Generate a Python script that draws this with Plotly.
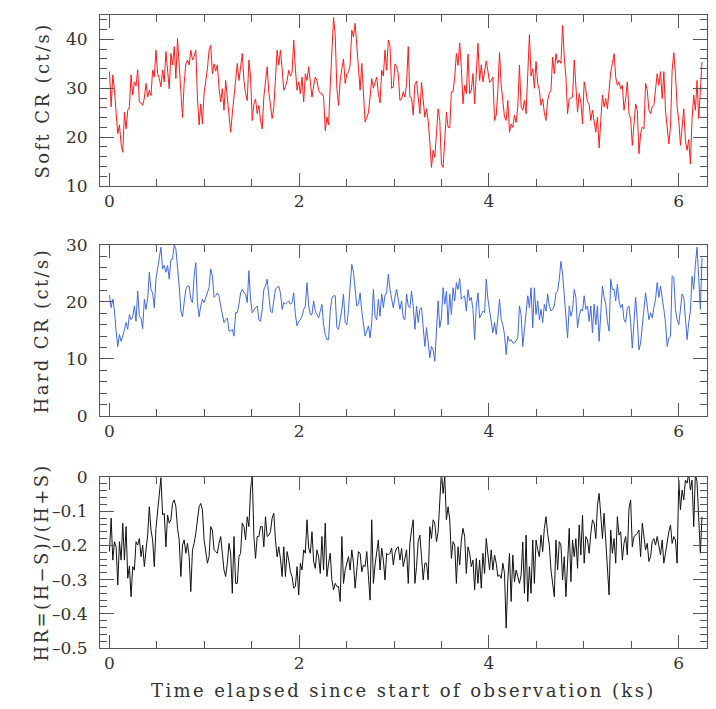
import numpy as np
import plotly.graph_objects as go
from plotly.subplots import make_subplots

# light-curve bins (ks)
BIN_KS = 0.0175

soft_cr = [
    33.4, 26.2, 32.7, 29.6, 25, 20.7, 22.5, 18.6, 16.9, 25.1,
    21.7, 25.5, 26.2, 32.7, 28.6, 31.3, 30.5, 33.8, 27.2, 27,
    26.5, 28, 31, 28.2, 29.6, 28.5, 33.7, 32.3, 37.8, 33,
    32, 30.3, 33.7, 31.3, 37.5, 33, 29.9, 37.1, 34.8, 38.5,
    32, 40.2, 35.4, 30, 24, 31, 35, 35.8, 34.8, 37.8,
    35.8, 36.5, 37.8, 28, 22.5, 26.8, 22.7, 29, 31.3, 34,
    37.8, 38.8, 33, 35, 33.5, 34.8, 30, 27.2, 29.9, 25.5,
    31.6, 28.2, 23.4, 21, 24.8, 28, 31.6, 35.1, 31.6, 35,
    37.1, 31.6, 28.9, 27.5, 35.8, 32.3, 23.4, 26.8, 27.8, 24.8,
    26.5, 23.5, 21.7, 28.2, 31.3, 34.4, 29.2, 27, 23.8, 26,
    31.6, 37.8, 34.8, 37.8, 34, 29.6, 30.3, 31.6, 33.7, 32.5,
    33.2, 39.9, 34, 29.6, 31.3, 28.9, 32.3, 27.2, 33, 31.6,
    34.4, 30.5, 28.2, 30.5, 32.3, 31.6, 29.6, 29, 28.9, 28.2,
    21.3, 24.1, 22.5, 30.5, 36.4, 44.5, 40.9, 30, 26.5, 31.6,
    34, 36, 31, 33, 33.2, 34.8, 41.9, 40.5, 43.3, 38,
    34.4, 29.6, 35.1, 27.5, 23.1, 24, 25, 28.2, 32, 30,
    31, 32.3, 29, 27, 33.7, 32.5, 37.8, 33.7, 39.9, 38.8,
    30, 30.3, 35, 34.5, 33, 27.5, 27.8, 29.3, 28.2, 31,
    38.5, 28.2, 28, 24.5, 30.8, 31.5, 28.2, 24.8, 31.2, 28.2,
    24.1, 25.8, 23.4, 19, 13.8, 17.3, 15.9, 20.7, 25.8, 23.4,
    14.5, 13.8, 20.7, 25.1, 22, 21.9, 29.3, 29.3, 32.3, 37.1,
    34.7, 39.3, 34.2, 26.8, 30.6, 28.9, 37, 28.9, 29.6, 33,
    26.8, 32, 39.2, 31.6, 34.8, 31.3, 33.5, 35.6, 33.5, 31.2,
    31.6, 32.3, 23.4, 24.5, 29.6, 37.3, 30.7, 27.5, 24.1, 23.4,
    27.5, 21, 22.7, 22, 24.5, 23, 26.2, 34.7, 26.2, 25.5,
    27.5, 24.8, 32.7, 41, 32.5, 34, 30, 35.5, 31, 29.6,
    26.5, 27.8, 25, 23.4, 27.5, 29, 29.6, 36.4, 33, 37.1,
    35.1, 35.8, 35.1, 42.9, 36.4, 32.3, 24.8, 27.9, 28, 28.2,
    35.8, 31.3, 25.1, 28.9, 27.2, 22.7, 31.3, 29.6, 27.2, 26.8,
    23.4, 25.5, 22.7, 21, 24.1, 17.8, 23.4, 28.6, 26.2, 27.9,
    25.8, 30.3, 33.4, 35.1, 37.1, 32.3, 30.6, 31.3, 29.9, 30.6,
    25.5, 27.9, 31.3, 24.8, 23.8, 18.3, 22.4, 26.8, 25.5, 16.6,
    20.7, 22.1, 21.7, 31, 29.6, 25.5, 24.8, 26.2, 26.5, 29.9,
    33, 30.6, 33.4, 27.9, 33.4, 25.5, 21.7, 18.6, 22.1, 33.7,
    37.3, 33, 26.2, 23.4, 18.3, 22.7, 25.8, 19.3, 17.3, 19.5,
    14.5, 23.8, 28.6, 25.5, 31.6, 23.8, 30.3, 35.4,
]

hard_cr = [
    21.2, 19, 20.5, 18.4, 14.9, 12.2, 14.3, 13.1, 14, 15.2,
    16.4, 15.2, 17.8, 16.9, 17.4, 19.3, 16.6, 21.9, 17.5, 17.2,
    15.3, 20.5, 18.7, 20.6, 25.2, 22.2, 21.6, 19, 24, 25.8,
    27.8, 29.6, 25.8, 26.4, 25.2, 26.4, 24, 27.4, 27.5, 30,
    29.3, 26.4, 22.8, 18.4, 17.4, 19.9, 22.2, 22.8, 22.8, 20.5,
    19.9, 24.6, 26.9, 19.9, 17.4, 19.3, 20.5, 19.9, 20.8, 21.6,
    22.5, 25.8, 24.6, 20.8, 21.1, 21.6, 21.1, 19.3, 17.8, 16.4,
    16.9, 17.2, 14.9, 14.9, 15.2, 14, 18.1, 18.1, 19.6, 21.6,
    22.2, 21.6, 21.4, 19.9, 25.5, 20.5, 18.1, 18.7, 19, 19.3,
    16.9, 16.6, 18.7, 22.2, 22.8, 24, 20.5, 18.4, 18.1, 20.5,
    22.3, 22.5, 22.8, 21.6, 18.7, 19.9, 19.6, 19.9, 20.2, 19.6,
    19.9, 21.6, 17.8, 15.8, 16.6, 16.9, 17.5, 18.7, 19.3, 23.4,
    19.3, 17.8, 17.8, 20.2, 18.4, 17.8, 17.2, 18.4, 19.6, 16,
    14.3, 13.4, 13.4, 18.4, 20.6, 21.1, 21.1, 15.5, 15.2, 16.9,
    18.7, 21.4, 16.4, 16, 18.7, 22.8, 26.6, 25.2, 21.6, 19.3,
    19.6, 21.6, 18.4, 16.6, 14, 14.9, 15.8, 13.7, 16.4, 22.2,
    17.5, 16.9, 20.5, 17.5, 21.4, 19, 21.2, 21.6, 24.9, 22.2,
    20.2, 19, 20.8, 22.2, 20.5, 18.7, 20.2, 17.1, 16.9, 21.4,
    19.3, 19, 21.9, 19.3, 15.2, 19.3, 16.4, 18.7, 19, 15.2,
    12.2, 15.5, 12.2, 10.2, 12.2, 11.6, 9.6, 16.4, 20.2, 15.5,
    17.2, 22.5, 19.6, 21.9, 16, 21.4, 17.8, 22.5, 20.2, 23.4,
    22.2, 24.1, 20.5, 20.8, 21.1, 18.4, 22.2, 20.2, 20.8, 18.7,
    13.4, 19.3, 21.6, 17.2, 17.8, 18.4, 18.1, 24, 20.5, 18.4,
    16.9, 14.6, 16.4, 14.3, 17.2, 20.5, 16.9, 16, 14.3, 10.8,
    14, 13.1, 13.4, 12.8, 12.8, 13.4, 13.7, 19.3, 17.8, 12.2,
    14.9, 17.5, 21.1, 19, 22.5, 15.5, 22.5, 17.8, 20.2, 16.9,
    18.7, 16.4, 19.6, 18.4, 21.4, 19.3, 18.4, 18.7, 19.3, 21.6,
    21.9, 24, 27.1, 24.9, 21.6, 17.5, 13.7, 19.3, 17.5, 18.7,
    22.2, 20.8, 15.5, 17.5, 18.7, 18.4, 21.1, 18.7, 19.3, 16.6,
    19.3, 14.6, 19.6, 16, 19.3, 13.1, 18.1, 22.8, 20.8, 19.6,
    16.6, 14.9, 24, 22.2, 22.2, 20.2, 23.1, 20.2, 19, 19.6,
    16.9, 16.4, 19, 19.3, 16.4, 11.9, 16.4, 20.8, 16.9, 11.6,
    12.8, 16.4, 18.7, 21.6, 19.3, 16.9, 18.1, 17.2, 19, 20.5,
    23.4, 20.8, 22.8, 20.2, 18.7, 16.4, 12.2, 13.7, 14, 24.6,
    24.3, 18.7, 16.9, 16, 18.7, 21.4, 20.8, 16.9, 13.4, 16.4,
    18.4, 24.5, 22.2, 26.6, 29.6, 24.3, 18.7, 27.8,
]

hardness = [
    -0.218, -0.12, -0.243, -0.189, -0.204, -0.316, -0.189, -0.243, -0.135, -0.243,
    -0.145, -0.296, -0.26, -0.35, -0.262, -0.272, -0.189, -0.199, -0.18, -0.233,
    -0.199, -0.262, -0.213, -0.17, -0.087, -0.155, -0.184, -0.262, -0.15, -0.106,
    -0.048, -0.002, -0.111, -0.106, -0.204, -0.111, -0.135, -0.125, -0.077, -0.067,
    -0.087, -0.15, -0.184, -0.291, -0.199, -0.184, -0.223, -0.194, -0.233, -0.335,
    -0.213, -0.194, -0.165, -0.125, -0.087, -0.077, -0.096, -0.184, -0.213, -0.252,
    -0.233, -0.145, -0.155, -0.213, -0.218, -0.223, -0.194, -0.174, -0.223, -0.272,
    -0.291, -0.252, -0.194, -0.223, -0.34, -0.174, -0.311, -0.311, -0.233, -0.223,
    -0.135, -0.145, -0.184, -0.116, -0.145, -0.038, 0.01, -0.174, -0.238, -0.174,
    -0.174, -0.145, -0.145, -0.204, -0.116, -0.174, -0.17, -0.16, -0.12, -0.106,
    -0.184, -0.233, -0.204, -0.238, -0.291, -0.204, -0.291, -0.218, -0.243, -0.277,
    -0.291, -0.325, -0.32, -0.262, -0.345, -0.252, -0.272, -0.213, -0.223, -0.125,
    -0.208, -0.223, -0.16, -0.247, -0.267, -0.213, -0.233, -0.282, -0.174, -0.272,
    -0.135, -0.291, -0.252, -0.223, -0.301, -0.33, -0.311, -0.32, -0.32, -0.364,
    -0.174, -0.311, -0.272, -0.252, -0.233, -0.272, -0.213, -0.252, -0.325, -0.272,
    -0.218, -0.223, -0.277, -0.257, -0.262, -0.218, -0.291, -0.36, -0.125, -0.311,
    -0.257, -0.223, -0.184, -0.272, -0.208, -0.243, -0.301, -0.223, -0.228, -0.223,
    -0.208, -0.257, -0.223, -0.208, -0.204, -0.243, -0.209, -0.262, -0.238, -0.213,
    -0.311, -0.194, -0.155, -0.125, -0.311, -0.262, -0.189, -0.17, -0.233, -0.301,
    -0.252, -0.252, -0.301, -0.145, -0.18, -0.125, -0.135, -0.189, -0.16, -0.057,
    0.016, -0.048, 0.0, -0.125, -0.087, -0.125, -0.238, -0.189, -0.199, -0.311,
    -0.204, -0.257, -0.184, -0.15, -0.174, -0.282, -0.204, -0.223, -0.262, -0.243,
    -0.33, -0.238, -0.311, -0.243, -0.325, -0.223, -0.282, -0.18, -0.233, -0.272,
    -0.213, -0.272, -0.228, -0.252, -0.291, -0.286, -0.296, -0.252, -0.282, -0.442,
    -0.301, -0.223, -0.364, -0.228, -0.306, -0.272, -0.291, -0.311, -0.286, -0.19,
    -0.34, -0.17, -0.364, -0.262, -0.34, -0.184, -0.311, -0.184, -0.213, -0.233,
    -0.17, -0.218, -0.15, -0.116, -0.165, -0.199, -0.272, -0.311, -0.35, -0.184,
    -0.272, -0.189, -0.199, -0.301, -0.233, -0.35, -0.223, -0.15, -0.306, -0.184,
    -0.233, -0.18, -0.267, -0.14, -0.228, -0.111, -0.252, -0.174, -0.184, -0.223,
    -0.165, -0.125, -0.135, -0.18, -0.082, -0.048, -0.111, -0.18, -0.106, -0.194,
    -0.243, -0.345, -0.155, -0.223, -0.18, -0.252, -0.116, -0.17, -0.16, -0.243,
    -0.194, -0.174, -0.228, -0.091, -0.067, -0.204, -0.174, -0.17, -0.165, -0.155,
    -0.233, -0.135, -0.174, -0.213, -0.194, -0.247, -0.233, -0.189, -0.18, -0.199,
    -0.174, -0.204, -0.228, -0.184, -0.252, -0.223, -0.189, -0.16, -0.14, -0.194,
    -0.174, -0.184, -0.252, -0.009, -0.096, -0.038, -0.067, -0.009, -0.018, 0.01,
    -0.038, -0.009, -0.145, 0.01, -0.014, -0.135, -0.223, -0.116,
]

hr_ticks = [-0.5, -0.4, -0.3, -0.2, -0.1, 0]
hr_tick_text = ["\u20130.5", "\u20130.4", "\u20130.3", "\u20130.2", "\u20130.1", "0"]

time_ks = np.arange(len(soft_cr)) * BIN_KS

FONT = "DejaVu Serif"
AX = "#555555"

fig = make_subplots(rows=3, cols=1)
fig.add_trace(go.Scatter(x=time_ks, y=soft_cr, mode="lines",
                         line=dict(color="#ff1a1a", width=1)), row=1, col=1)
fig.add_trace(go.Scatter(x=time_ks, y=hard_cr, mode="lines",
                         line=dict(color="#4169e1", width=1)), row=2, col=1)
fig.add_trace(go.Scatter(x=time_ks, y=hardness, mode="lines",
                         line=dict(color="#111111", width=1)), row=3, col=1)

common = dict(showline=True, linecolor=AX, linewidth=1, mirror="allticks",
              showgrid=False, zeroline=False, ticks="inside", tickcolor=AX,
              tickwidth=1, automargin=False,
              tickfont=dict(family=FONT, size=17, color="#333"))

for i in (1, 2, 3):
    fig.update_xaxes(range=[-0.1, 6.3], dtick=2, tick0=0, ticklen=13,
                     minor=dict(dtick=0.5, ticklen=7, tickcolor=AX, ticks="inside"),
                     row=i, col=1, **common)

fig.update_yaxes(range=[10, 45], dtick=10, ticklen=14,
                 minor=dict(dtick=2, ticklen=7, tickcolor=AX, ticks="inside"),
                 domain=[0.7299, 1.0], ticklabelstandoff=8, row=1, col=1, **common)
fig.update_yaxes(range=[0, 30], dtick=10, ticklen=14,
                 minor=dict(dtick=2, ticklen=7, tickcolor=AX, ticks="inside"),
                 domain=[0.3665, 0.6367], ticklabelstandoff=8, row=2, col=1, **common)
fig.update_yaxes(range=[-0.5, 0], tickvals=hr_ticks, ticktext=hr_tick_text,
                 ticklen=14,
                 minor=dict(dtick=0.02, ticklen=7, tickcolor=AX, ticks="inside"),
                 domain=[0.0, 0.2701], ticklabelstandoff=8, row=3, col=1, **common)


def spaced(s):
    return '<span style="letter-spacing:2.4px">' + s + '</span>'


titles = [("Soft CR (ct/s)", 0.865), ("Hard CR (ct/s)", 0.5016),
          ("HR=(H\u2212S)/(H+S)", 0.135)]
for text, yc in titles:
    fig.add_annotation(text=spaced(text), xref="paper", yref="paper",
                       x=-0.0956, y=yc, textangle=-90, showarrow=False,
                       xanchor="center", yanchor="middle",
                       font=dict(family=FONT, size=18, color="#333"))
fig.add_annotation(text=spaced("Time elapsed since start of observation (ks)"),
                   xref="paper", yref="paper", x=0.5, y=-0.0664,
                   showarrow=False, xanchor="center", yanchor="middle",
                   font=dict(family=FONT, size=18, color="#333"))

fig.update_layout(width=716, height=709, showlegend=False,
                  paper_bgcolor="white", plot_bgcolor="white",
                  margin=dict(l=100, r=9, t=15, b=61))

# drop the browser's default page margin so the figure sits at the corner
fig.write_html("out.html", config={"displayModeBar": False},
               post_script="document.body.style.margin='0';"
                           "document.body.style.overflow='hidden';")
